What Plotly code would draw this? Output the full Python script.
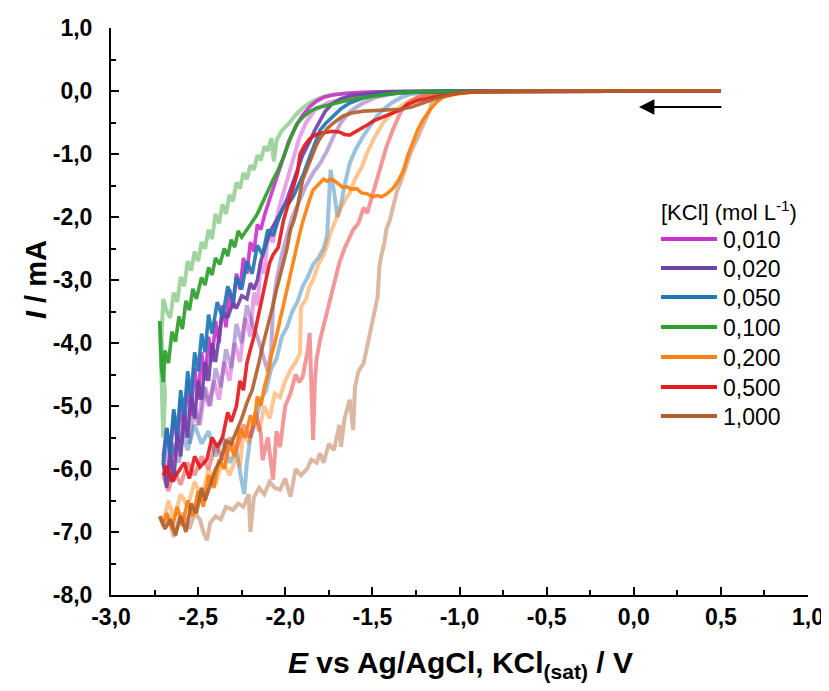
import plotly.graph_objects as go

# ---------------- data (E / V, I / mA) ----------------
concentrations = ["0,010", "0,020", "0,050", "0,100", "0,200", "0,500", "1,000"]
colors = ["#CC33CC", "#6F42A6", "#1F77B4", "#2CA02C", "#FF7F0E", "#E31A1C", "#B15F2E"]
light_alpha = 0.45

fwd_010 = [(0.5,0),(-0.8,0),(-1.2,-0.005),(-1.4,-0.01),(-1.55,-0.02),(-1.65,-0.035),(-1.72,-0.06),(-1.78,-0.1),
           (-1.82,-0.16),(-1.86,-0.25),(-1.9,-0.38),(-1.94,-0.56),(-1.98,-0.8),(-2.02,-1.12),(-2.06,-1.45),
           (-2.09,-1.72),(-2.12,-1.98),(-2.14,-2.2),(-2.16,-2.12),(-2.18,-2.55),(-2.2,-2.4),(-2.22,-2.9),
           (-2.24,-2.65),(-2.26,-3.15),(-2.28,-2.9),(-2.30,-3.45),(-2.32,-3.15),(-2.34,-3.75),(-2.36,-3.4),
           (-2.38,-4.0),(-2.40,-3.65),(-2.42,-4.3),(-2.44,-3.9),(-2.46,-4.6),(-2.48,-4.15),(-2.50,-4.9),
           (-2.52,-4.4),(-2.54,-5.15),(-2.56,-4.6),(-2.58,-5.4),(-2.60,-4.9),(-2.62,-5.6),(-2.64,-5.1),
           (-2.66,-5.75),(-2.68,-5.35),(-2.70,-5.8)]
rev_010 = [(-2.70,-5.8),(-2.68,-6.0),(-2.66,-5.5),(-2.63,-5.8),(-2.6,-5.2),(-2.57,-5.5),(-2.54,-4.9),(-2.5,-5.3),
           (-2.47,-4.7),(-2.44,-5.0),(-2.41,-4.6),(-2.38,-4.9),(-2.35,-4.3),(-2.32,-4.6),(-2.29,-4.0),(-2.26,-4.3),
           (-2.23,-3.6),(-2.2,-3.9),(-2.18,-3.2),(-2.16,-3.4),(-2.14,-2.7),(-2.12,-2.9),(-2.10,-2.3),(-2.07,-2.4),
           (-2.04,-1.9),(-2.01,-1.6),(-1.98,-1.3),(-1.95,-1.0),(-1.92,-0.75),(-1.88,-0.5),(-1.83,-0.3),
           (-1.75,-0.18),(-1.65,-0.12),(-1.5,-0.07),(-1.35,-0.03),(-1.2,-0.01),(-1.0,0),(0.5,0)]

fwd_020 = [(0.5,0),(-1.0,0),(-1.3,-0.01),(-1.45,-0.025),(-1.55,-0.045),(-1.62,-0.07),(-1.68,-0.12),(-1.73,-0.2),
           (-1.77,-0.32),(-1.80,-0.46),(-1.83,-0.62),(-1.86,-0.8),(-1.9,-1.02),(-1.93,-1.25),(-1.96,-1.5),
           (-1.99,-1.72),(-2.02,-1.9),(-2.05,-2.05),(-2.08,-2.2),(-2.10,-2.35),(-2.12,-2.55),(-2.14,-2.7),
           (-2.16,-3.0),(-2.18,-3.15),(-2.2,-3.05),(-2.22,-3.3),(-2.25,-3.25),(-2.28,-3.45),(-2.30,-3.35),
           (-2.33,-3.6),(-2.36,-3.5),(-2.38,-3.9),(-2.40,-4.3),(-2.42,-4.0),(-2.44,-4.6),(-2.46,-4.3),
           (-2.48,-4.9),(-2.50,-4.6),(-2.52,-5.2),(-2.54,-4.8),(-2.56,-5.5),(-2.58,-5.1),(-2.60,-5.8),
           (-2.62,-5.4),(-2.64,-6.2),(-2.66,-5.7),(-2.68,-6.3),(-2.70,-5.9)]
rev_020 = [(-2.70,-5.9),(-2.67,-6.2),(-2.64,-5.6),(-2.61,-5.9),(-2.58,-5.3),(-2.55,-5.6),(-2.52,-5.0),(-2.49,-5.3),
           (-2.46,-4.7),(-2.43,-5.0),(-2.40,-4.4),(-2.37,-4.7),(-2.34,-4.1),(-2.31,-4.4),(-2.28,-3.7),(-2.25,-4.0),
           (-2.22,-3.4),(-2.19,-3.7),(-2.16,-3.9),(-2.13,-4.2),(-2.10,-4.45),(-2.08,-4.1),(-2.07,-3.4),(-2.05,-3.0),
           (-2.02,-2.6),(-1.99,-2.3),(-1.96,-2.0),(-1.92,-1.75),(-1.88,-1.5),(-1.84,-1.3),(-1.80,-1.15),
           (-1.76,-0.95),(-1.72,-0.7),(-1.68,-0.5),(-1.63,-0.33),(-1.56,-0.2),(-1.48,-0.1),(-1.38,-0.04),
           (-1.25,-0.01),(-1.0,0),(0.5,0)]

fwd_050 = [(0.5,0),(-1.0,0),(-1.3,-0.015),(-1.47,-0.06),(-1.55,-0.11),(-1.63,-0.19),(-1.68,-0.28),(-1.73,-0.41),
           (-1.77,-0.52),(-1.80,-0.62),(-1.83,-0.82),(-1.86,-1.05),(-1.9,-1.35),(-1.93,-1.55),(-1.955,-1.68),
           (-1.98,-1.78),(-2.01,-1.84),(-2.04,-2.05),(-2.07,-2.3),(-2.10,-2.2),(-2.13,-2.6),(-2.16,-2.45),
           (-2.19,-2.9),(-2.22,-2.7),(-2.25,-3.15),(-2.28,-2.95),(-2.30,-3.35),(-2.33,-3.1),(-2.36,-3.6),
           (-2.39,-3.35),(-2.42,-3.85),(-2.44,-3.55),(-2.46,-4.15),(-2.48,-3.85),(-2.50,-4.45),(-2.52,-4.15),
           (-2.54,-4.85),(-2.56,-4.45),(-2.58,-5.15),(-2.60,-4.75),(-2.62,-5.45),(-2.64,-5.05),(-2.66,-5.75),
           (-2.68,-5.35),(-2.70,-5.9)]
rev_050 = [(-2.70,-5.9),(-2.67,-5.5),(-2.64,-5.8),(-2.6,-5.4),(-2.56,-5.7),(-2.52,-5.3),(-2.48,-5.6),(-2.44,-5.4),
           (-2.40,-5.8),(-2.36,-5.5),(-2.32,-5.9),(-2.28,-5.7),(-2.25,-6.2),(-2.235,-6.4),(-2.22,-5.9),(-2.2,-5.5),
           (-2.17,-5.25),(-2.14,-4.9),(-2.11,-4.75),(-2.08,-4.4),(-2.05,-4.25),(-2.02,-3.9),(-1.99,-3.75),
           (-1.96,-3.5),(-1.93,-3.35),(-1.9,-3.1),(-1.87,-2.95),(-1.84,-2.75),(-1.81,-2.65),(-1.78,-2.5),
           (-1.76,-2.3),(-1.75,-1.7),(-1.74,-1.25),(-1.72,-1.6),(-1.70,-2.0),(-1.68,-1.8),(-1.66,-1.5),
           (-1.63,-1.15),(-1.60,-0.95),(-1.56,-0.75),(-1.53,-0.62),(-1.48,-0.42),(-1.44,-0.3),(-1.39,-0.19),
           (-1.34,-0.11),(-1.28,-0.05),(-1.2,-0.02),(-1.0,0),(0.5,0)]

fwd_100 = [(0.5,0),(-0.9,0),(-1.2,-0.01),(-1.35,-0.03),(-1.44,-0.06),(-1.54,-0.1),(-1.63,-0.14),(-1.72,-0.2),
           (-1.78,-0.24),(-1.82,-0.27),(-1.86,-0.33),(-1.9,-0.42),(-1.93,-0.51),(-1.97,-0.75),(-2.01,-1.05),
           (-2.04,-1.25),(-2.07,-1.41),(-2.10,-1.6),(-2.13,-1.78),(-2.16,-1.95),(-2.19,-2.08),(-2.22,-2.2),
           (-2.25,-2.32),(-2.27,-2.22),(-2.29,-2.48),(-2.31,-2.36),(-2.33,-2.62),(-2.35,-2.5),(-2.375,-2.75),
           (-2.40,-2.65),(-2.42,-2.92),(-2.44,-2.8),(-2.46,-3.08),(-2.48,-2.96),(-2.51,-3.3),(-2.53,-3.14),
           (-2.55,-3.48),(-2.57,-3.33),(-2.59,-3.78),(-2.61,-3.58),(-2.63,-3.98),(-2.65,-3.82),(-2.67,-4.32),
           (-2.69,-4.12),(-2.70,-4.62),(-2.71,-4.4),(-2.72,-3.65)]
rev_100 = [(-2.72,-3.65),(-2.71,-4.6),(-2.70,-5.5),(-2.69,-4.8),(-2.71,-3.9),(-2.70,-3.3),(-2.68,-3.5),
           (-2.66,-3.6),(-2.64,-3.2),(-2.62,-3.35),(-2.60,-2.95),(-2.58,-3.1),(-2.56,-2.7),(-2.54,-2.85),
           (-2.52,-2.55),(-2.50,-2.7),(-2.48,-2.4),(-2.46,-2.5),(-2.44,-2.2),(-2.42,-2.35),(-2.40,-1.95),
           (-2.38,-2.1),(-2.36,-1.8),(-2.34,-1.95),(-2.32,-1.65),(-2.30,-1.75),(-2.28,-1.45),(-2.26,-1.55),
           (-2.24,-1.3),(-2.22,-1.4),(-2.20,-1.18),(-2.18,-1.25),(-2.16,-1.02),(-2.14,-1.1),(-2.12,-0.88),
           (-2.10,-0.95),(-2.08,-0.75),(-2.065,-1.12),(-2.05,-0.78),(-2.02,-0.63),(-1.98,-0.52),(-1.94,-0.38),
           (-1.90,-0.27),(-1.86,-0.19),(-1.80,-0.11),(-1.74,-0.06),(-1.6,-0.03),(-1.4,-0.01),(-1.1,0),(0.5,0)]

fwd_200 = [(0.5,0),(-0.6,0),(-0.8,-0.005),(-0.9,-0.015),(-0.98,-0.03),(-1.04,-0.06),(-1.095,-0.1),(-1.13,-0.17),
           (-1.17,-0.3),(-1.21,-0.46),(-1.24,-0.62),(-1.27,-0.83),(-1.30,-1.05),(-1.32,-1.25),(-1.35,-1.42),
           (-1.38,-1.54),(-1.42,-1.64),(-1.45,-1.68),(-1.47,-1.66),(-1.50,-1.68),(-1.53,-1.63),(-1.56,-1.62),
           (-1.59,-1.55),(-1.62,-1.56),(-1.645,-1.52),(-1.67,-1.53),(-1.69,-1.48),(-1.72,-1.42),(-1.74,-1.40),
           (-1.76,-1.43),(-1.78,-1.40),(-1.81,-1.48),(-1.84,-1.57),(-1.86,-1.72),(-1.88,-1.88),(-1.90,-2.08),
           (-1.92,-2.3),(-1.94,-2.55),(-1.96,-2.8),(-1.98,-3.05),(-2.00,-3.3),(-2.02,-3.55),(-2.04,-3.75),
           (-2.06,-4.0),(-2.08,-4.2),(-2.10,-4.5),(-2.12,-4.7),(-2.14,-5.0),(-2.16,-4.85),(-2.18,-5.3),
           (-2.20,-5.15),(-2.23,-5.5),(-2.26,-5.35),(-2.29,-5.8),(-2.32,-5.6),(-2.35,-6.0),(-2.38,-5.85),
           (-2.41,-6.3),(-2.44,-6.1),(-2.47,-6.6),(-2.50,-6.35),(-2.53,-6.75),(-2.56,-6.5),(-2.59,-6.9),
           (-2.62,-6.6),(-2.65,-6.95),(-2.68,-6.7),(-2.70,-6.85)]
rev_200 = [(-2.70,-6.85),(-2.67,-6.5),(-2.64,-6.8),(-2.60,-6.4),(-2.56,-6.6),(-2.52,-6.2),(-2.48,-6.45),
           (-2.44,-6.0),(-2.40,-6.25),(-2.36,-5.85),(-2.32,-6.1),(-2.28,-5.8),(-2.26,-5.97),(-2.24,-5.4),
           (-2.21,-5.6),(-2.18,-5.2),(-2.15,-5.4),(-2.12,-5.0),(-2.09,-5.2),(-2.06,-4.8),(-2.03,-4.86),
           (-2.00,-4.6),(-1.97,-4.43),(-1.94,-4.3),(-1.915,-4.16),(-1.91,-3.43),(-1.88,-3.3),(-1.86,-3.1),
           (-1.84,-3.0),(-1.81,-2.75),(-1.78,-2.6),(-1.76,-2.45),(-1.74,-2.25),(-1.71,-2.05),(-1.68,-1.85),
           (-1.65,-1.7),(-1.63,-1.62),(-1.60,-1.4),(-1.56,-1.2),(-1.53,-0.98),(-1.49,-0.75),(-1.44,-0.51),
           (-1.39,-0.36),(-1.34,-0.25),(-1.29,-0.16),(-1.24,-0.1),(-1.17,-0.05),(-1.05,-0.02),(-0.9,0),(0.5,0)]

fwd_500 = [(0.5,0),(-0.7,0),(-0.9,-0.01),(-1.0,-0.03),(-1.08,-0.06),(-1.15,-0.1),(-1.24,-0.15),(-1.30,-0.22),
           (-1.34,-0.30),(-1.39,-0.36),(-1.44,-0.41),(-1.49,-0.47),(-1.53,-0.54),(-1.58,-0.62),(-1.63,-0.70),
           (-1.66,-0.69),(-1.69,-0.65),(-1.73,-0.64),(-1.76,-0.65),(-1.80,-0.67),(-1.83,-0.70),(-1.86,-0.76),
           (-1.89,-0.87),(-1.915,-1.0),(-1.93,-1.3),(-1.95,-1.5),(-1.97,-1.68),(-2.01,-2.05),(-2.04,-2.48),
           (-2.07,-2.6),(-2.09,-2.73),(-2.11,-3.0),(-2.13,-3.27),(-2.15,-3.5),(-2.16,-3.68),(-2.18,-3.9),
           (-2.20,-4.1),(-2.22,-4.32),(-2.24,-4.75),(-2.26,-4.6),(-2.28,-5.0),(-2.31,-5.25),(-2.33,-5.1),
           (-2.36,-5.5),(-2.39,-5.65),(-2.42,-5.5),(-2.45,-5.85),(-2.49,-5.97),(-2.52,-5.8),(-2.55,-6.15),
           (-2.58,-5.9),(-2.62,-6.06),(-2.65,-6.2),(-2.68,-5.95),(-2.70,-6.1)]
rev_500 = [(-2.70,-6.1),(-2.67,-6.35),(-2.64,-6.0),(-2.60,-6.25),(-2.56,-5.9),(-2.52,-6.1),(-2.48,-5.8),
           (-2.44,-6.0),(-2.40,-5.6),(-2.36,-5.85),(-2.32,-5.5),(-2.28,-5.7),(-2.24,-5.3),(-2.20,-5.5),
           (-2.17,-5.1),(-2.14,-5.45),(-2.13,-5.86),(-2.10,-5.5),(-2.07,-6.17),(-2.05,-5.4),(-2.03,-5.65),
           (-2.00,-5.0),(-1.97,-4.8),(-1.94,-4.5),(-1.92,-4.62),(-1.90,-4.54),(-1.87,-4.1),(-1.86,-3.84),
           (-1.85,-4.7),(-1.84,-5.54),(-1.83,-4.6),(-1.82,-4.25),(-1.80,-3.95),(-1.77,-3.6),(-1.74,-3.27),
           (-1.71,-2.95),(-1.69,-2.73),(-1.66,-2.5),(-1.63,-2.3),(-1.61,-2.2),(-1.58,-2.1),(-1.55,-1.85),
           (-1.53,-1.94),(-1.50,-1.65),(-1.47,-1.41),(-1.44,-1.1),(-1.42,-0.89),(-1.38,-0.6),(-1.34,-0.35),
           (-1.30,-0.2),(-1.24,-0.1),(-1.15,-0.04),(-1.0,-0.01),(-0.8,0),(0.5,0)]

fwd_1000 = [(0.5,0),(-0.7,0),(-0.9,-0.01),(-1.0,-0.03),(-1.08,-0.07),(-1.15,-0.13),(-1.22,-0.2),(-1.28,-0.26),
            (-1.34,-0.29),(-1.40,-0.3),(-1.47,-0.31),(-1.55,-0.32),(-1.62,-0.35),(-1.67,-0.4),(-1.70,-0.46),
            (-1.73,-0.52),(-1.76,-0.6),(-1.78,-0.67),(-1.80,-0.75),(-1.82,-0.85),(-1.84,-0.98),(-1.87,-1.2),
            (-1.90,-1.41),(-1.93,-1.84),(-1.95,-2.05),(-1.97,-2.2),(-1.99,-2.5),(-2.01,-2.7),(-2.03,-2.95),
            (-2.05,-3.15),(-2.07,-3.4),(-2.09,-3.6),(-2.11,-3.85),(-2.13,-4.05),(-2.15,-4.3),(-2.17,-4.5),
            (-2.19,-4.75),(-2.22,-4.95),(-2.25,-5.2),(-2.28,-5.4),(-2.31,-5.6),(-2.34,-5.55),(-2.37,-5.85),
            (-2.40,-6.0),(-2.43,-6.25),(-2.46,-6.5),(-2.48,-6.3),(-2.51,-6.7),(-2.54,-6.55),(-2.57,-7.0),
            (-2.60,-6.75),(-2.63,-7.05),(-2.66,-6.8),(-2.69,-6.95),(-2.72,-6.75)]
rev_1000 = [(-2.72,-6.75),(-2.70,-6.9),(-2.67,-6.75),(-2.64,-7.08),(-2.61,-6.8),(-2.59,-6.7),(-2.55,-6.95),
            (-2.52,-6.7),(-2.49,-6.8),(-2.47,-7.0),(-2.45,-7.13),(-2.43,-6.85),(-2.40,-6.75),(-2.37,-6.8),
            (-2.34,-6.6),(-2.30,-6.65),(-2.27,-6.55),(-2.24,-6.6),(-2.21,-6.4),(-2.20,-7.0),(-2.18,-6.45),
            (-2.15,-6.3),(-2.12,-6.4),(-2.09,-6.2),(-2.06,-6.3),(-2.03,-6.33),(-2.00,-6.15),(-1.97,-6.44),
            (-1.94,-6.0),(-1.91,-6.1),(-1.875,-6.0),(-1.85,-5.85),(-1.82,-5.9),(-1.80,-5.75),(-1.78,-5.9),
            (-1.75,-5.6),(-1.72,-5.7),(-1.69,-5.3),(-1.68,-5.65),(-1.66,-5.2),(-1.63,-4.9),(-1.61,-5.38),
            (-1.60,-4.7),(-1.58,-4.45),(-1.55,-4.32),(-1.53,-4.05),(-1.51,-3.8),(-1.49,-3.5),(-1.47,-3.27),
            (-1.46,-2.8),(-1.45,-2.63),(-1.43,-2.4),(-1.42,-2.2),(-1.40,-2.05),(-1.38,-1.84),(-1.36,-1.6),
            (-1.34,-1.46),(-1.31,-1.2),(-1.28,-0.98),(-1.25,-0.8),(-1.23,-0.67),(-1.20,-0.5),(-1.17,-0.3),
            (-1.16,-0.18),(-1.15,-0.1),(-1.10,-0.04),(-1.0,-0.01),(-0.8,0),(0.5,0)]

forward_scans = [fwd_010, fwd_020, fwd_050, fwd_100, fwd_200, fwd_500, fwd_1000]
return_scans = [rev_010, rev_020, rev_050, rev_100, rev_200, rev_500, rev_1000]

x_tickvals = [-3.0, -2.5, -2.0, -1.5, -1.0, -0.5, 0.0, 0.5, 1.0]
x_ticktext = ["-3,0", "-2,5", "-2,0", "-1,5", "-1,0", "-0,5", "0,0", "0,5", "1,0"]
y_tickvals = [1, 0, -1, -2, -3, -4, -5, -6, -7, -8]
y_ticktext = ["1,0", "0,0", "-1,0", "-2,0", "-3,0", "-4,0", "-5,0", "-6,0", "-7,0", "-8,0"]

# ---------------- figure ----------------
FONT = "Liberation Sans, Arial, sans-serif"


def rgba(hexcol, a):
    h = hexcol.lstrip("#")
    r, g, b = int(h[0:2], 16), int(h[2:4], 16), int(h[4:6], 16)
    return f"rgba({r},{g},{b},{a})"


fig = go.Figure()

for name, col, pts in zip(concentrations, colors, return_scans):
    fig.add_trace(go.Scatter(x=[p[0] for p in pts], y=[p[1] for p in pts], mode="lines",
                             line=dict(color=rgba(col, light_alpha), width=4),
                             showlegend=False, hoverinfo="skip"))

for name, col, pts in zip(concentrations, colors, forward_scans):
    fig.add_trace(go.Scatter(x=[p[0] for p in pts], y=[p[1] for p in pts], mode="lines",
                             line=dict(color=rgba(col, 0.92), width=3.6),
                             name=name, showlegend=False))

# The page body adds an 8 px offset; the figure is sized so that the plot area
# lands at page pixels x 111..808, y 28..595.
OFF = 8
FIG_W, FIG_H = 829 - OFF, 691 - OFF
L, R, T, B = 111 - OFF, 808 - OFF, 28 - OFF, 595 - OFF
W, H = R - L, B - T


def px(x):
    return (x - OFF - L) / W


def py(y):
    return (B - (y - OFF)) / H


annotations = []
shapes = []

# manual legend
annotations.append(dict(text="[KCl] (mol L<sup>-1</sup>)", x=px(659), y=py(211), xref="paper", yref="paper",
                        xanchor="left", yanchor="middle", showarrow=False,
                        font=dict(family=FONT, size=22, color="black")))
leg_y = [239, 268, 297, 327, 357, 387, 416]
for name, col, yy in zip(concentrations, colors, leg_y):
    shapes.append(dict(type="line", xref="paper", yref="paper", x0=px(661), x1=px(717), y0=py(yy), y1=py(yy),
                       line=dict(color=col, width=3.8)))
    annotations.append(dict(text=name, x=px(721), y=py(yy + 1), xref="paper", yref="paper",
                            xanchor="left", yanchor="middle", showarrow=False,
                            font=dict(family=FONT, size=23, color="black")))

# scan direction arrow
annotations.append(dict(x=0.03, y=-0.254, ax=0.512, ay=-0.254, xref="x", yref="y", axref="x", ayref="y",
                        text="", showarrow=True, arrowhead=2, arrowsize=1.4, arrowwidth=2.2,
                        arrowcolor="black"))

# axis titles
annotations.append(dict(text="<b><i>E</i> vs Ag/AgCl, KCl<sub>(sat)</sub> / V</b>", x=px(460), y=py(664),
                        xref="paper", yref="paper", xanchor="center", yanchor="middle", showarrow=False,
                        font=dict(family=FONT, size=30, color="black")))
annotations.append(dict(text="<b><i>I</i> / mA</b>", x=px(36), y=py(280), xref="paper", yref="paper",
                        xanchor="center", yanchor="middle", showarrow=False, textangle=-90,
                        font=dict(family=FONT, size=29, color="black")))

axis_common = dict(showgrid=False, zeroline=False, showline=True, linecolor="black", linewidth=2,
                   ticks="inside", ticklen=8, tickwidth=2, tickcolor="black", automargin=False,
                   tickfont=dict(family=FONT, size=23, color="black", weight="bold"))

fig.update_layout(
    width=FIG_W, height=FIG_H, autosize=False,
    margin=dict(l=L, r=FIG_W - R, t=T, b=FIG_H - B, pad=0, autoexpand=False),
    paper_bgcolor="white", plot_bgcolor="white",
    showlegend=False,
    xaxis=dict(range=[-3, 1], tickvals=x_tickvals, ticktext=x_ticktext,
               minor=dict(ticks="inside", ticklen=5, tickwidth=2, tickcolor="black", dtick=0.25, tick0=0),
               ticklabelstandoff=0, **axis_common),
    yaxis=dict(range=[-8, 1], tickvals=y_tickvals, ticktext=y_ticktext,
               minor=dict(ticks="inside", ticklen=5, tickwidth=2, tickcolor="black", dtick=0.5, tick0=0),
               ticklabelstandoff=12, **axis_common),
    annotations=annotations,
    shapes=shapes,
)

fig.write_html("out.html")
